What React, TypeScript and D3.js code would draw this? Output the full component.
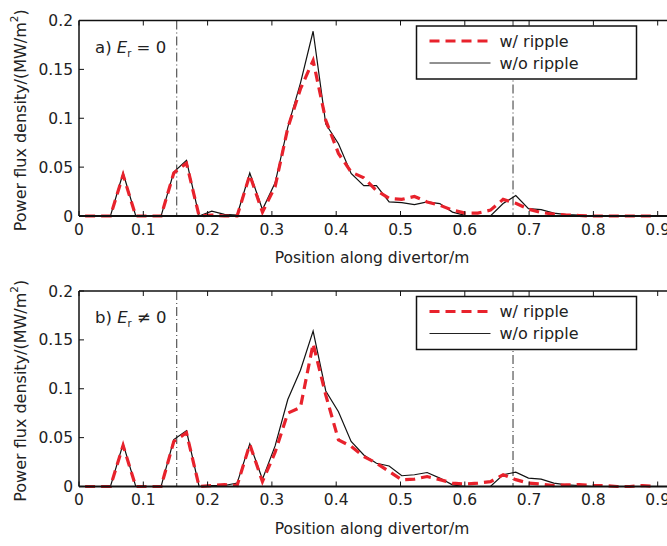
import React, { useEffect, useRef } from "react";
import * as d3 from "d3";

const positions = [0.0095,0.0292,0.0489,0.0686,0.0883,0.108,0.1277,0.1474,0.1671,0.1868,0.2065,0.2262,0.2459,0.2656,0.2853,0.305,0.3247,0.3444,0.3641,0.3838,0.4035,0.4232,0.4429,0.4626,0.4823,0.502,0.5217,0.5414,0.5611,0.5808,0.6005,0.6202,0.6399,0.6596,0.6793,0.699,0.7187,0.7384,0.7581,0.7778,0.7975,0.8172,0.8369,0.8566,0.8763,0.896];

const topWithout = [0,0,0,0.044,0,0,0,0.045,0.057,0,0.005,0.0017,0.001,0.044,0.0066,0.034,0.091,0.136,0.189,0.094,0.074,0.0435,0.031,0.031,0.0144,0.0137,0.0117,0.0144,0.0127,0.004,0.0007,0,0,0.0127,0.021,0.0076,0.0066,0.003,0.0015,0.001,0,0,0,0,0,0];
const topWith = [0,0,0,0.042,0,0,0,0.044,0.054,0,0.001,0,0,0.042,0.004,0.03,0.09,0.13,0.159,0.098,0.064,0.045,0.039,0.026,0.018,0.017,0.02,0.0144,0.011,0.006,0.003,0.003,0.006,0.017,0.013,0.007,0.0035,0.002,0.001,0.0005,0,0,0,0,0,0];

const botWithout = [0,0,0,0.0436,0,0,0,0.048,0.057,0,0.001,0.001,0.0035,0.0436,0.0075,0.0415,0.089,0.119,0.159,0.0977,0.0765,0.046,0.0323,0.0238,0.021,0.011,0.012,0.0143,0.0086,0.0017,0,0,0,0.012,0.0147,0.0086,0.0075,0.0035,0.0017,0.001,0,0,0,0,0,0];
const botWith = [0,0,0,0.042,0,0,0,0.046,0.055,0,0.001,0.002,0.001,0.043,0.005,0.035,0.075,0.081,0.146,0.0935,0.0477,0.041,0.0306,0.024,0.0153,0.0068,0.0075,0.0102,0.007,0.0035,0.0025,0.0035,0.005,0.012,0.007,0.0035,0.0025,0.001,0.0017,0.002,0.001,0.001,0,0,0.001,0];

const xTicks = [0,0.1,0.2,0.3,0.4,0.5,0.6,0.7,0.8,0.9];
const yTicks = [0,0.05,0.1,0.15,0.2];
const yTickLabels = ["0","0.05","0.1","0.15","0.2"];
const vLines = [0.152, 0.675];
const legendLabels = ["w/ ripple", "w/o ripple"];

const FONT = "'DejaVu Sans', sans-serif";

function Panel({ top, withData, withoutData, label, neq }: any) {
  const ref = useRef<SVGGElement>(null);
  const left = 79;
  const height = 195.5;
  useEffect(() => {
    const g = d3.select(ref.current);
    g.selectAll("*").remove();
    const x = d3.scaleLinear().domain([0, 1]).range([left, left + 643]);
    const y = d3.scaleLinear().domain([0, 0.2]).range([top + height, top]);
    const line = d3.line<number>().x((_, i) => x(positions[i])).y((d) => y(d));

    vLines.forEach((v) => {
      g.append("line")
        .attr("x1", x(v)).attr("x2", x(v))
        .attr("y1", top).attr("y2", top + height)
        .attr("stroke", "#333").attr("stroke-width", 1)
        .attr("stroke-dasharray", "9,3,1,3");
    });

    g.append("path").datum(withoutData).attr("d", line as any)
      .attr("fill", "none").attr("stroke", "#111").attr("stroke-width", 1.2);
    g.append("path").datum(withData).attr("d", line as any)
      .attr("fill", "none").attr("stroke", "#e8222c").attr("stroke-width", 3.2)
      .attr("stroke-dasharray", "10,6");

    g.append("line").attr("x1", left).attr("x2", 667).attr("y1", top).attr("y2", top)
      .attr("stroke", "#111").attr("stroke-width", 1.5);
    g.append("line").attr("x1", left).attr("x2", 667).attr("y1", top + height).attr("y2", top + height)
      .attr("stroke", "#111").attr("stroke-width", 1.8);
    g.append("line").attr("x1", left).attr("x2", left).attr("y1", top).attr("y2", top + height)
      .attr("stroke", "#111").attr("stroke-width", 1.5);

    xTicks.forEach((t) => {
      g.append("line").attr("x1", x(t)).attr("x2", x(t)).attr("y1", top + height).attr("y2", top + height - 5)
        .attr("stroke", "#111").attr("stroke-width", 1);
      g.append("line").attr("x1", x(t)).attr("x2", x(t)).attr("y1", top).attr("y2", top + 5)
        .attr("stroke", "#111").attr("stroke-width", 1);
      g.append("text").attr("x", x(t)).attr("y", top + height + 18.5)
        .attr("text-anchor", "middle").attr("font-family", FONT).attr("font-size", 15.5)
        .attr("fill", "#222").text(String(t));
    });
    yTicks.forEach((t, i) => {
      g.append("line").attr("x1", left).attr("x2", left + 5).attr("y1", y(t)).attr("y2", y(t))
        .attr("stroke", "#111").attr("stroke-width", 1);
      g.append("text").attr("x", left - 6).attr("y", y(t)).attr("dy", "0.36em")
        .attr("text-anchor", "end").attr("font-family", FONT).attr("font-size", 15.5)
        .attr("fill", "#222").text(yTickLabels[i]);
    });
  }, [top, withData, withoutData]);

  const lx = 416.5, ly = top + 5.5, lw = 220, lh = 53;
  return (
    <g>
      <g ref={ref} />
      <text x={20} y={top + height / 2 + 2} transform={`rotate(-90, 20, ${top + height / 2 + 2})`}
        textAnchor="middle" dominantBaseline="central" fontFamily={FONT} fontSize={16} fill="#222">
        Power flux density/(MW/m<tspan dy={-6} fontSize={10.5}>2</tspan><tspan dy={6}>)</tspan>
      </text>
      <text x={372} y={top + height + 47} textAnchor="middle" fontFamily={FONT} fontSize={15.5} fill="#222">
        Position along divertor/m
      </text>
      <text x={95} y={top + 32} fontFamily={FONT} fontSize={16.5} fill="#222">
        {label}) <tspan fontStyle="italic">E</tspan><tspan fontSize={10} dy={4}>r</tspan>
        <tspan dy={-4}>{neq ? " \u2260 0" : " = 0"}</tspan>
      </text>
      <rect x={lx} y={ly} width={lw} height={lh} fill="white" stroke="#111" strokeWidth={1.5} />
      <line x1={lx + 13} x2={lx + 74} y1={ly + 15} y2={ly + 15} stroke="#e8222c" strokeWidth={3.2} strokeDasharray="10,6" />
      <line x1={lx + 13} x2={lx + 74} y1={ly + 37} y2={ly + 37} stroke="#222" strokeWidth={1} />
      <text x={lx + 83} y={ly + 20.5} fontFamily={FONT} fontSize={16} fill="#222">{legendLabels[0]}</text>
      <text x={lx + 83} y={ly + 42.5} fontFamily={FONT} fontSize={16} fill="#222">{legendLabels[1]}</text>
    </g>
  );
}

export default function App() {
  return (
    <svg width={667} height={546} style={{ position: "absolute", left: 0, top: 0, background: "white" }}>
      <rect width={667} height={546} fill="white" />
      <Panel top={20.5} withData={topWith} withoutData={topWithout} label="a" neq={false} />
      <Panel top={291} withData={botWith} withoutData={botWithout} label="b" neq={true} />
    </svg>
  );
}
